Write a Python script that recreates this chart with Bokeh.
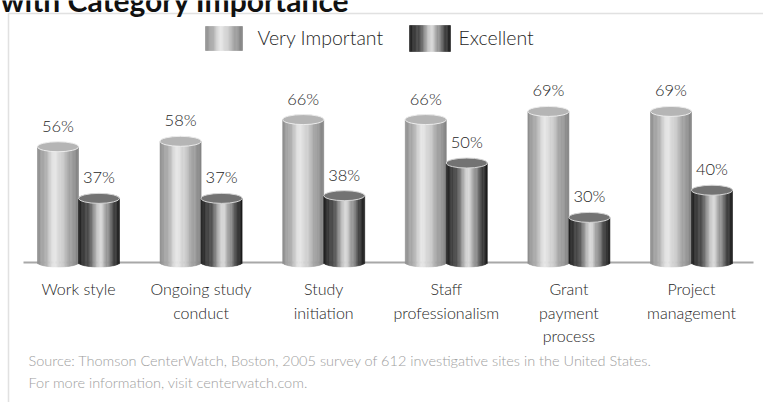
import math
from bokeh.plotting import figure
from bokeh.models import Range1d, Label, BoxAnnotation, ColumnDataSource, LabelSet
from bokeh.embed import file_html
from bokeh.resources import INLINE
from bokeh.core.properties import value

# ---------------- data ----------------
categories = ["Work style", "Ongoing study conduct", "Study initiation",
              "Staff professionalism", "Grant payment process", "Project management"]
category_lines = [["Work style"], ["Ongoing study", "conduct"], ["Study", "initiation"],
                  ["Staff", "professionalism"], ["Grant", "payment", "process"],
                  ["Project", "management"]]
very_important = [56, 58, 66, 66, 69, 69]
excellent = [37, 37, 38, 50, 30, 40]
series_names = ["Very Important", "Excellent"]
title_text = "with Category Importance"
source_lines = ["Source: Thomson CenterWatch, Boston, 2005 survey of 612 investigative sites in the United States.",
                "For more information, visit centerwatch.com."]

# ---------------- layout ----------------
W, H = 763, 402
GROUP0, GROUP_STEP = 78.0, 122.6
BASE_PX, BASE, PPU = 262.0, 13.4, 2.717
x_start = -GROUP0 / GROUP_STEP
x_end = (W - GROUP0) / GROUP_STEP
y_start = BASE - (H - BASE_PX) / PPU
y_end = BASE + BASE_PX / PPU


def px(x):
    return x_start + x / GROUP_STEP


def py(y):
    return y_end - y / PPU


FONT = "Lato Light"
TFONT = "Lato"
TXT = "#262626"
R = 20.5 / GROUP_STEP  # cylinder radius in data units
NSTRIP = 30

stops = [
    [(0.0, 0x8e), (0.15, 0xa8), (0.42, 0xe6), (0.58, 0xd2), (0.82, 0xa0), (1.0, 0x84)],
    [(0.0, 0x20), (0.2, 0x48), (0.55, 0xd8), (0.7, 0x98), (0.9, 0x3c), (1.0, 0x1a)],
]
top_colors = ["#b5b5b5", "#737373"]
top_lines = ["#ececec", "#d6d6d6"]


def grad(t, st):
    for (t0, v0), (t1, v1) in zip(st[:-1], st[1:]):
        if t0 <= t <= t1:
            f = (t - t0) / (t1 - t0)
            f = 0.5 - 0.5 * math.cos(math.pi * f)
            v = int(round(v0 + (v1 - v0) * f))
            return "#%02x%02x%02x" % (v, v, v)
    return "#888888"


p = figure(width=W, height=H, x_range=Range1d(x_start, x_end), y_range=Range1d(y_start, y_end),
           x_axis_type=None, y_axis_type=None, min_border=0, toolbar_location=None,
           output_backend="svg", outline_line_color=None, background_fill_color="white")
p.grid.visible = False

# frame
p.add_layout(BoxAnnotation(left=8, right=W + 10, bottom=-10, top=H - 13,
                           left_units="screen", right_units="screen",
                           bottom_units="screen", top_units="screen",
                           fill_alpha=0, line_color="#9a9a9a", line_width=1.5))

# title (cut at the top, as in the source)
p.add_layout(Label(x=0, y=H + 1, x_units="screen", y_units="screen", text=title_text,
                   text_font=TFONT, text_font_style="bold", text_font_size="30px",
                   text_color="#111111", text_baseline="alphabetic"))

# baseline
p.segment(x0=[px(23)], x1=[px(753)], y0=[BASE], y1=[BASE], line_color="#a8a8a8", line_width=2)

series_vals = [very_important, excellent]
for s, vals in enumerate(series_vals):
    L, Rt, T, B, C = [], [], [], [], []
    cxs = []
    for i, v in enumerate(vals):
        cx = i + (-R if s == 0 else R)
        cxs.append(cx)
        for j in range(NSTRIP):
            l = cx - R + 2 * R * j / NSTRIP
            r = cx - R + 2 * R * (j + 1) / NSTRIP
            t = (j + 0.5) / NSTRIP
            xo = (t - 0.5) * 2
            L.append(l)
            Rt.append(r)
            T.append(v)
            B.append(BASE - (4.5 / PPU) * math.sqrt(max(0.0, 1 - xo * xo)))
            C.append(grad(t, stops[s]))
    p.quad(left=L, right=Rt, top=T, bottom=B, fill_color=C, line_color=C, line_width=0.6)
    p.ellipse(x=cxs, y=vals, width=2 * R, height=10, height_units="screen",
              fill_color=top_colors[s], line_color=top_lines[s], line_width=1)
    src = ColumnDataSource(dict(x=cxs, y=vals, t=["%d%%" % v for v in vals]))
    p.add_layout(LabelSet(x="x", y="y", text="t", source=src, y_offset=15,
                          text_align="center", text_baseline="alphabetic",
                          text_font=value(FONT), text_font_size="16.5px", text_color=TXT))

# category labels
for i, lines in enumerate(category_lines):
    for k, line in enumerate(lines):
        p.add_layout(Label(x=i, y=H - (288 + 23.5 * k), x_units="data", y_units="screen",
                           text=line, text_align="center", text_baseline="middle",
                           text_font=FONT, text_font_size="16px", text_color=TXT))

# legend
sw = [(205, 242, 26, 50), (409, 450, 25, 51)]
lx = [257, 458]
for s in range(2):
    x0, x1, y0, y1 = sw[s]
    L, Rt, C = [], [], []
    for j in range(NSTRIP):
        L.append(px(x0 + (x1 - x0) * j / NSTRIP))
        Rt.append(px(x0 + (x1 - x0) * (j + 1) / NSTRIP))
        C.append(grad((j + 0.5) / NSTRIP, stops[s]))
    p.quad(left=L, right=Rt, top=py(y0), bottom=py(y1), fill_color=C, line_color=C, line_width=0.6)
    p.add_layout(Label(x=lx[s], y=H - 37, x_units="screen", y_units="screen", text=series_names[s],
                       text_baseline="middle", text_font=FONT, text_font_size="19.5px",
                       text_color=TXT))

# source
for k, line in enumerate(source_lines):
    p.add_layout(Label(x=28, y=H - (360 + 22 * k), x_units="screen", y_units="screen", text=line,
                       text_baseline="middle", text_font=FONT, text_font_size="14.5px",
                       text_color="#9e9e9e"))

open("out.html", "w").write(file_html(p, INLINE))
